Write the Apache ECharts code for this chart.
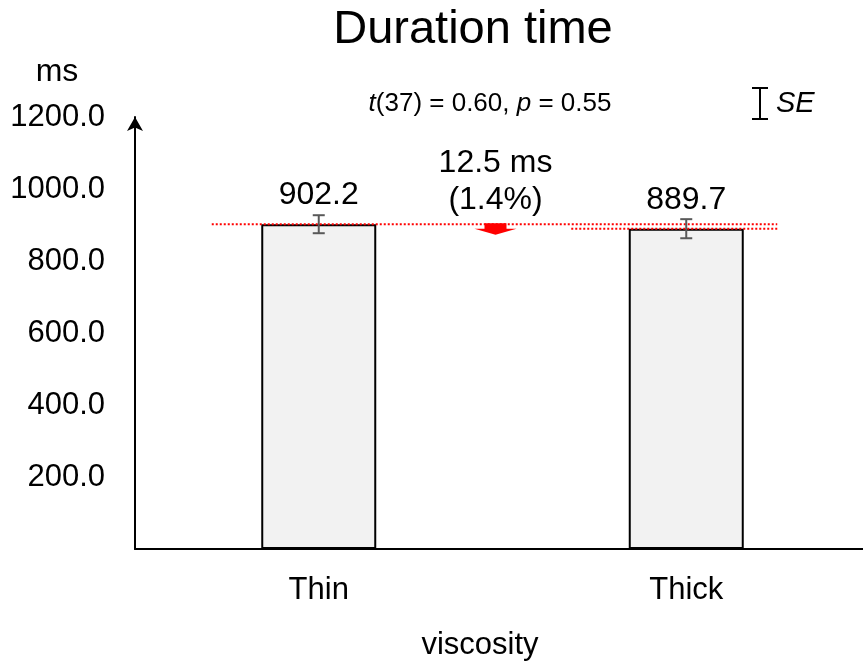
<!DOCTYPE html>
<html>
<head>
<meta charset="utf-8">
<title>Duration time</title>
<script src="https://cdn.jsdelivr.net/npm/echarts@6/dist/echarts.min.js"></script>
<style>
  html, body { margin: 0; padding: 0; background: #fff; }
  #chart { width: 863px; height: 664px; }
</style>
</head>
<body>
<div id="chart"></div>
<script>
// Mean duration per viscosity condition, with standard errors
const categories = ['Thin', 'Thick'];
const means = [902.2, 889.7];
const stdErrors = [25.0, 26.5];
const yTicks = [0, 200, 400, 600, 800, 1000, 1200];
const statsLabel = { df: 37, t: '0.60', p: '0.55' };

const FONT = '"Liberation Sans", Arial, Helvetica, sans-serif';
const diff = means[0] - means[1];
const diffPct = diff / means[0] * 100;

const chart = echarts.init(document.getElementById('chart'), null, { renderer: 'canvas' });

const option = {
  animation: false,
  backgroundColor: '#ffffff',
  textStyle: { fontFamily: FONT, color: '#000' },
  grid: { left: 135, top: 117, width: 735, height: 432, containLabel: false, outerBoundsMode: 'none' },
  xAxis: {
    type: 'category',
    data: categories,
    axisTick: { show: false },
    axisLine: { show: true, lineStyle: { color: '#000', width: 2 } },
    axisLabel: { fontSize: 31, color: '#000', fontFamily: FONT, margin: 26 }
  },
  yAxis: {
    type: 'value',
    min: yTicks[0],
    max: yTicks[yTicks.length - 1],
    interval: yTicks[1] - yTicks[0],
    splitLine: { show: false },
    axisTick: { show: false },
    axisLine: {
      show: true,
      symbol: ['none', 'arrow'],
      symbolSize: [12, 14],
      lineStyle: { color: '#000', width: 2 }
    },
    axisLabel: {
      fontSize: 31,
      color: '#000',
      fontFamily: FONT,
      margin: 30,
      formatter: v => (v === 0 ? '' : v.toFixed(1))
    }
  },
  graphic: [
    {
      type: 'text', x: 473, y: 30,
      style: { text: 'Duration time', font: '47px ' + FONT, fill: '#000', textAlign: 'center', textVerticalAlign: 'middle' }
    },
    {
      type: 'text', x: 57, y: 72,
      style: { text: 'ms', font: '32px ' + FONT, fill: '#000', textAlign: 'center', textVerticalAlign: 'middle' }
    },
    {
      type: 'text', x: 490, y: 104,
      style: {
        text: '{i|t}(' + statsLabel.df + ') = ' + statsLabel.t + ', {i|p} = ' + statsLabel.p,
        font: '26px ' + FONT, fill: '#000', textAlign: 'center', textVerticalAlign: 'middle',
        rich: { i: { fontStyle: 'italic', fontSize: 26, fontFamily: FONT } }
      }
    },
    {
      type: 'group', x: 760, y: 88,
      children: [
        { type: 'line', shape: { x1: 0, y1: 0, x2: 0, y2: 31 }, style: { stroke: '#000', lineWidth: 2 } },
        { type: 'line', shape: { x1: -8, y1: 0, x2: 8, y2: 0 }, style: { stroke: '#000', lineWidth: 2 } },
        { type: 'line', shape: { x1: -8, y1: 31, x2: 8, y2: 31 }, style: { stroke: '#000', lineWidth: 2 } },
        {
          type: 'text', x: 16, y: 16,
          style: { text: 'SE', font: 'italic 29px ' + FONT, fill: '#000', textVerticalAlign: 'middle' }
        }
      ]
    },
    {
      type: 'text', x: 480, y: 645,
      style: { text: 'viscosity', font: '31px ' + FONT, fill: '#000', textAlign: 'center', textVerticalAlign: 'middle' }
    }
  ],
  series: [
    {
      name: 'mean',
      type: 'bar',
      data: means,
      barWidth: 115,
      itemStyle: { color: '#f2f2f2', borderColor: '#000', borderWidth: 2 },
      label: {
        show: true,
        position: 'top',
        distance: 13,
        fontSize: 32,
        color: '#000',
        fontFamily: FONT,
        formatter: p => p.value.toFixed(1)
      },
      z: 2
    },
    {
      // standard error whiskers
      name: 'se',
      type: 'custom',
      data: means.map((m, i) => [i, m, stdErrors[i]]),
      renderItem: (params, api) => {
        const i = api.value(0), m = api.value(1), se = api.value(2);
        const top = api.coord([i, m + se]);
        const bot = api.coord([i, m - se]);
        const cap = 6;
        const st = { stroke: '#595959', lineWidth: 2 };
        return {
          type: 'group',
          children: [
            { type: 'line', shape: { x1: top[0], y1: top[1], x2: bot[0], y2: bot[1] }, style: st },
            { type: 'line', shape: { x1: top[0] - cap, y1: top[1], x2: top[0] + cap, y2: top[1] }, style: st },
            { type: 'line', shape: { x1: bot[0] - cap, y1: bot[1], x2: bot[0] + cap, y2: bot[1] }, style: st }
          ]
        };
      },
      z: 5
    },
    {
      // reference lines at both means, down arrow and difference label
      name: 'diff',
      type: 'custom',
      data: [[0, means[0], means[1]]],
      renderItem: (params, api) => {
        const hi = api.coord([0, api.value(1)]);
        const lo = api.coord([1, api.value(2)]);
        const dash = { stroke: '#ff0000', lineWidth: 2, lineDash: [2, 2] };
        const ax = (hi[0] + lo[0]) / 2 - 7;
        const headH = 6;
        return {
          type: 'group',
          children: [
            { type: 'line', shape: { x1: hi[0] - 107, y1: hi[1], x2: lo[0] + 91, y2: hi[1] }, style: dash },
            { type: 'line', shape: { x1: lo[0] - 115, y1: lo[1], x2: lo[0] + 91, y2: lo[1] }, style: dash },
            {
              type: 'polygon',
              shape: {
                points: [
                  [ax - 11, hi[1] - 1], [ax + 11, hi[1] - 1], [ax + 11, lo[1]], [ax + 21, lo[1]],
                  [ax, lo[1] + headH], [ax - 21, lo[1]], [ax - 11, lo[1]]
                ]
              },
              style: { fill: '#ff0000' }
            },
            {
              type: 'text', x: ax, y: 163,
              style: {
                text: diff.toFixed(1) + ' ms', font: '32px ' + FONT, fill: '#000',
                textAlign: 'center', textVerticalAlign: 'middle'
              }
            },
            {
              type: 'text', x: ax, y: 200,
              style: {
                text: '(' + diffPct.toFixed(1) + '%)', font: '32px ' + FONT, fill: '#000',
                textAlign: 'center', textVerticalAlign: 'middle'
              }
            }
          ]
        };
      },
      z: 4
    }
  ]
};

chart.setOption(option);
</script>
</body>
</html>
